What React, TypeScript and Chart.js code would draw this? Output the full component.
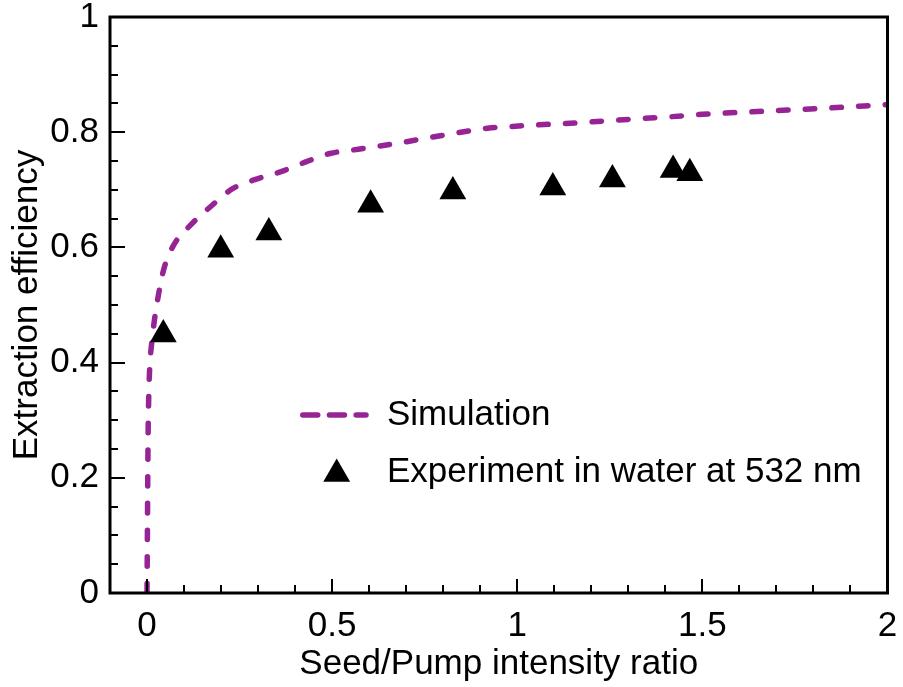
import React, { useEffect, useRef } from 'react';
import { Chart, registerables } from 'chart.js';

Chart.register(...registerables);

// ---- data ----
const simX = [0, 0.001, 0.002, 0.003, 0.005, 0.008, 0.012, 0.02, 0.031, 0.046, 0.073, 0.118, 0.172, 0.23, 0.293, 0.364, 0.427, 0.494, 0.566, 0.638, 0.705, 0.776, 0.848, 0.92, 0.987, 1.059, 1.13, 1.202, 1.273, 1.345, 1.417, 1.5, 1.65, 1.84, 2];
const simY = [0, 0.1, 0.2, 0.28, 0.35, 0.4, 0.43, 0.474, 0.518, 0.564, 0.605, 0.639, 0.671, 0.7015, 0.718, 0.732, 0.748, 0.763, 0.77, 0.777, 0.784, 0.792, 0.8, 0.807, 0.81, 0.813, 0.815, 0.818, 0.821, 0.824, 0.827, 0.831, 0.836, 0.842, 0.848];
const expX = [0.044, 0.199, 0.329, 0.604, 0.826, 1.096, 1.257, 1.421, 1.466];
const expY = [0.449, 0.596, 0.626, 0.674, 0.697, 0.704, 0.718, 0.7345, 0.7286];
const seriesNames = ['Simulation', 'Experiment in water at 532 nm'];
const xTickValues = [0, 0.5, 1, 1.5, 2];
const xTickLabels = ['0', '0.5', '1', '1.5', '2'];
const yTickValues = [0, 0.2, 0.4, 0.6, 0.8, 1];
const yTickLabels = ['0', '0.2', '0.4', '0.6', '0.8', '1'];
const xMinorStep = 0.1;
const yMinorStep = 0.05;
const xTitle = 'Seed/Pump intensity ratio';
const yTitle = 'Extraction efficiency';

const FONT = 'Liberation Sans, Arial, Helvetica, sans-serif';
const PURPLE = 'rgb(150, 36, 148)';
const FONT_SIZE = 35;

const frameTicksPlugin = {
  id: 'frameTicks',
  afterDatasetsDraw(chart: any) {
    const { ctx, chartArea: a, scales } = chart;
    const xs = scales.x;
    const ys = scales.y;
    ctx.save();
    ctx.strokeStyle = '#000';
    ctx.lineWidth = 2;
    const nx0 = Math.ceil(xs.min / xMinorStep - 1e-6);
    const nx1 = Math.floor(xs.max / xMinorStep + 1e-6);
    for (let i = nx0; i <= nx1; i++) {
      const v = i * xMinorStep;
      const major = xTickValues.some((t) => Math.abs(t - v) < 1e-6);
      const px = Math.round(xs.getPixelForValue(v));
      ctx.beginPath();
      ctx.moveTo(px, a.bottom);
      ctx.lineTo(px, a.bottom - (major ? 14 : 8));
      ctx.stroke();
    }
    const ny0 = Math.ceil(ys.min / yMinorStep - 1e-6);
    const ny1 = Math.floor(ys.max / yMinorStep + 1e-6);
    for (let i = ny0; i <= ny1; i++) {
      const v = i * yMinorStep;
      const major = yTickValues.some((t) => Math.abs(t - v) < 1e-6);
      const py = Math.round(ys.getPixelForValue(v));
      ctx.beginPath();
      ctx.moveTo(a.left, py);
      ctx.lineTo(a.left + (major ? 15 : 8), py);
      ctx.stroke();
    }
    ctx.lineWidth = 3;
    ctx.strokeRect(a.left, a.top, a.right - a.left, a.bottom - a.top);

    // legend
    const lx = a.left + 190;
    const ly1 = a.top + 398;
    const ly2 = a.top + 455;
    const tx = a.left + 277;
    ctx.strokeStyle = PURPLE;
    ctx.lineWidth = 5.5;
    ctx.lineCap = 'round';
    ctx.setLineDash([15, 11.7]);
    ctx.beginPath();
    ctx.moveTo(lx + 2.75, ly1);
    ctx.lineTo(lx + 66, ly1);
    ctx.stroke();
    ctx.setLineDash([]);
    const cx = lx + 36.7;
    const r = 15.5;
    ctx.fillStyle = '#000';
    ctx.beginPath();
    for (let k = 0; k < 3; k++) {
      const ang = (k * 2 * Math.PI) / 3;
      const px = cx + Math.sin(ang) * r;
      const py = ly2 + 2 - Math.cos(ang) * r;
      if (k === 0) ctx.moveTo(px, py);
      else ctx.lineTo(px, py);
    }
    ctx.closePath();
    ctx.fill();
    ctx.font = `${FONT_SIZE}px ${FONT}`;
    ctx.textBaseline = 'middle';
    ctx.textAlign = 'left';
    ctx.fillText(seriesNames[0], tx, ly1);
    ctx.fillText(seriesNames[1], tx, ly2);
    ctx.restore();
  },
};

export default function App() {
  const ref = useRef<HTMLCanvasElement | null>(null);
  useEffect(() => {
    if (!ref.current) return;
    const font = { family: FONT, size: FONT_SIZE, lineHeight: 1.2 };
    const chart = new Chart(ref.current, {
      type: 'line',
      data: {
        datasets: [
          {
            label: seriesNames[1],
            data: expX.map((x, i) => ({ x, y: expY[i] })),
            showLine: false,
            pointStyle: 'triangle',
            pointRadius: 15.5,
            pointBackgroundColor: '#000',
            pointBorderWidth: 0,
            backgroundColor: '#000',
            borderColor: '#000',
            order: 1,
          },
          {
            label: seriesNames[0],
            data: simX.map((x, i) => ({ x, y: simY[i] })),
            borderColor: PURPLE,
            borderWidth: 5.5,
            borderDash: [9.5, 17.2],
            borderCapStyle: 'round',
            pointRadius: 0,
            cubicInterpolationMode: 'monotone',
            fill: false,
            order: 2,
          },
        ],
      },
      options: {
        responsive: false,
        animation: false,
        events: [],
        layout: { padding: { top: 17, right: 11, left: 0, bottom: 0 } },
        plugins: { legend: { display: false }, tooltip: { enabled: false } },
        scales: {
          x: {
            type: 'linear',
            min: -0.1,
            max: 2,
            afterBuildTicks: (s: any) => {
              s.ticks = xTickValues.map((v) => ({ value: v }));
            },
            afterFit: (s: any) => {
              s.height = 94;
              s.paddingLeft = 0;
              s.paddingRight = 0;
            },
            grid: { display: false, drawTicks: false },
            border: { display: false },
            ticks: {
              padding: 12,
              color: '#000',
              font,
              autoSkip: false,
              maxRotation: 0,
              callback: (_v: any, i: number) => xTickLabels[i],
            },
            title: {
              display: true,
              text: xTitle,
              color: '#000',
              font,
              padding: { top: 0, bottom: 2 },
            },
          },
          y: {
            type: 'linear',
            min: 0,
            max: 1,
            afterBuildTicks: (s: any) => {
              s.ticks = yTickValues.map((v) => ({ value: v }));
            },
            afterFit: (s: any) => {
              s.width = 110;
              s.paddingTop = 0;
              s.paddingBottom = 0;
            },
            grid: { display: false, drawTicks: false },
            border: { display: false },
            ticks: {
              padding: 11,
              color: '#000',
              font,
              autoSkip: false,
              callback: (_v: any, i: number) => yTickLabels[i],
            },
            title: {
              display: true,
              text: yTitle,
              color: '#000',
              font,
              padding: { top: 6, bottom: 0 },
            },
          },
        },
      },
      plugins: [frameTicksPlugin],
    } as any);
    return () => chart.destroy();
  }, []);
  return (
    <div style={{ position: 'absolute', left: 0, top: 0, width: 903, height: 687, background: '#fff' }}>
      <canvas ref={ref} width={903} height={687} style={{ display: 'block' }} />
    </div>
  );
}
